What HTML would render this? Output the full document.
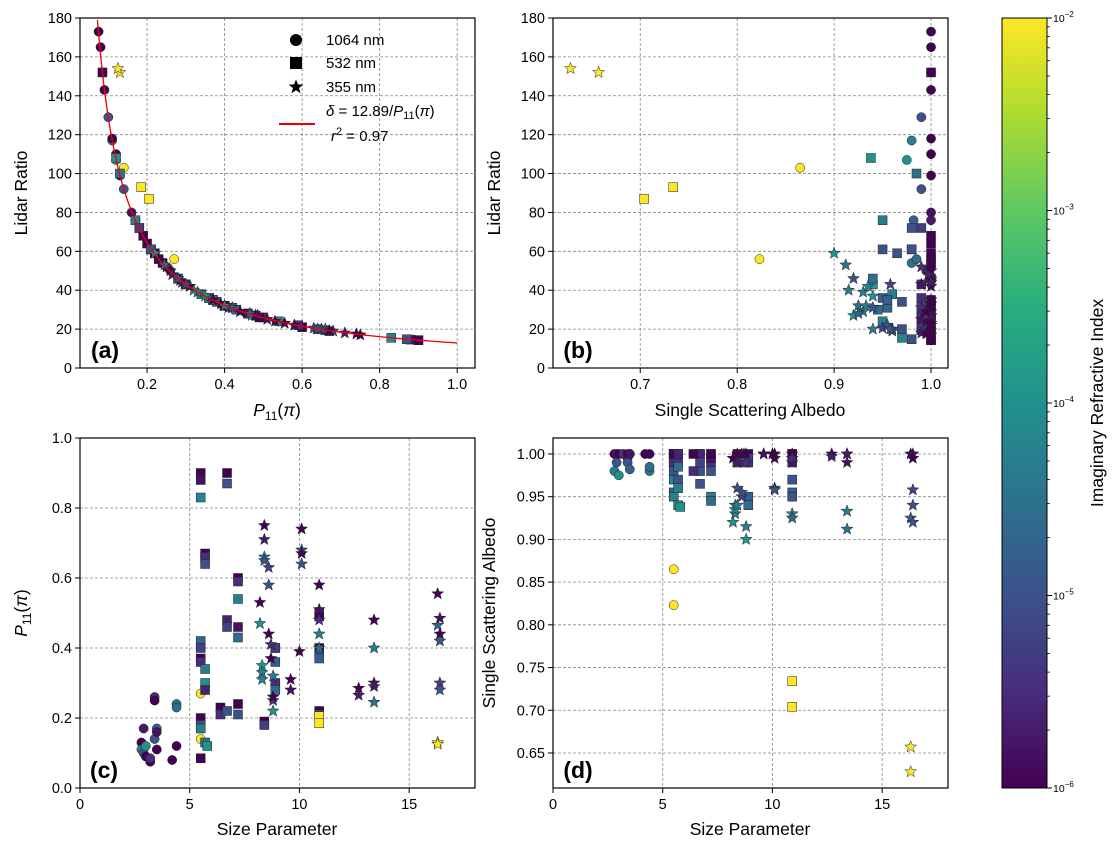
<!DOCTYPE html>
<html><head><meta charset="utf-8"><style>
body{margin:0;background:#fff;width:1117px;height:846px;overflow:hidden}
svg{font-family:"Liberation Sans","DejaVu Sans",sans-serif}
</style></head><body>
<svg id="fig" width="1117" height="846" viewBox="0 0 1117 846" xmlns="http://www.w3.org/2000/svg">
<defs>
<linearGradient id="vir" x1="0" y1="1" x2="0" y2="0">
<stop offset="0" stop-color="#440154"/><stop offset="0.125" stop-color="#472d7b"/><stop offset="0.25" stop-color="#3b528b"/><stop offset="0.375" stop-color="#2c728e"/><stop offset="0.5" stop-color="#21918c"/><stop offset="0.625" stop-color="#28ae80"/><stop offset="0.75" stop-color="#5ec962"/><stop offset="0.875" stop-color="#addc30"/><stop offset="1" stop-color="#fde725"/>
</linearGradient>
</defs>
</svg>
<script>
// particle data: size parameter, P11(pi), single scattering albedo, lidar ratio, log10(k), marker (0=1064,1=532,2=355)
const sizeParam=[2.8,2.8,2.9,2.9,3.0,3.0,3.2,3.2,3.4,3.4,3.4,3.5,3.5,3.5,4.2,4.4,4.4,4.4,5.5,5.5,
5.5,5.5,5.5,5.5,5.5,5.5,5.5,5.5,5.5,5.5,5.5,5.7,5.7,5.7,5.7,5.7,5.7,5.7,5.8,6.7,6.7,6.7,6.7,6.4,6.4,6.7,7.2,7.2,7.2,7.2,7.2,7.2,7.2,8.4,8.4,8.9,8.9,8.9,8.9,8.9,10.9,10.9,10.9,10.9,10.9,10.9,10.9,10.9,10.9,
8.2,8.3,8.3,8.2,8.3,8.4,8.4,8.4,8.4,8.6,8.6,8.6,8.7,8.7,8.8,8.8,8.8,8.8,9.6,9.6,10.1,10.1,10.1,10.1,10.0,10.9,10.9,10.9,10.9,10.9,12.7,12.7,13.4,13.4,13.4,13.4,13.4,16.3,16.3,16.4,16.4,16.4,16.4,16.4,16.3,16.3];
const p11=[0.13,0.11,0.17,0.10,0.12,0.09,0.075,0.085,0.26,0.25,0.14,0.17,0.11,0.16,0.08,0.24,0.12,0.23,0.27,0.14,
0.90,0.88,0.83,0.42,0.40,0.37,0.36,0.20,0.18,0.17,0.085,0.67,0.66,0.64,0.34,0.30,0.28,0.13,0.12,0.90,0.87,0.48,0.46,0.23,0.21,0.22,0.60,0.59,0.54,0.46,0.43,0.24,0.21,0.19,0.18,0.40,0.36,0.30,0.28,0.40,0.40,0.38,0.37,0.22,0.21,0.205,0.185,0.50,0.49,
0.53,0.35,0.33,0.47,0.31,0.75,0.71,0.66,0.65,0.63,0.58,0.44,0.41,0.37,0.32,0.25,0.22,0.26,0.31,0.28,0.74,0.68,0.67,0.64,0.39,0.58,0.51,0.48,0.44,0.40,0.285,0.265,0.48,0.40,0.30,0.29,0.245,0.555,0.465,0.485,0.44,0.42,0.30,0.28,0.13,0.125];
const albedo=[1.0,0.98,1.0,0.99,0.975,1.0,1.0,1.0,0.995,1.0,0.99,0.982,1.0,1.0,1.0,0.98,1.0,0.985,0.823,0.865,
1.0,1.0,0.97,0.955,0.99,1.0,0.99,1.0,0.98,0.95,1.0,1.0,0.99,0.97,0.96,0.94,1.0,0.985,0.938,1.0,0.98,1.0,0.99,1.0,0.98,0.965,1.0,0.99,0.95,0.995,0.945,1.0,0.98,1.0,0.99,1.0,0.95,0.99,0.94,0.995,1.0,0.97,0.955,1.0,0.95,0.704,0.734,0.99,1.0,
0.995,0.94,0.93,0.92,0.935,1.0,0.99,0.94,0.96,0.95,0.955,1.0,0.99,1.0,0.915,0.99,0.9,1.0,1.0,1.0,0.995,0.96,1.0,0.958,1.0,1.0,0.99,0.995,0.93,0.925,1.0,0.997,1.0,0.933,0.99,1.0,0.912,1.0,0.925,1.0,0.995,0.94,0.958,0.92,0.657,0.628];
const lidarRatio=[99,117,76,129,107,143,173,152,50,52,92,76,118,80,165,54,110,56,56,103,
14.3,14.6,15.5,31,32,35,36,64,72,76,152,19,19.5,20,38,43,46,100,108,14.3,14.8,27,28,56,61,59,21,22,24,28,30,54,61,68,72,32,36,43,46,32,32,34,35,59,61,87,93,26,26,
24,37,39,27,42,17,18,20,20,20.5,22,29,31,35,40,52,59,50,42,46,17.5,19,19.2,20,33,22,25,27,29,32,45,48,27,32,43,44,53,23,28,27,29,31,43,46,152,154];
const logK=[-6,-4.3,-5.7,-5,-4,-6,-6,-5.5,-5.5,-6,-5,-4.8,-6,-5.8,-6,-4.5,-6,-4.6,-2,-2,
-6,-5.8,-4.2,-4.7,-5.2,-6,-5.5,-6,-5,-4.3,-6,-6,-5.5,-5,-4.3,-4,-5.6,-4.5,-4,-6,-5,-5.6,-5.2,-6,-5.5,-5,-6,-5.5,-4.3,-5.8,-4.6,-6,-5,-6,-5.3,-6,-4.8,-5.5,-4.6,-5.3,-6,-5,-4.8,-6,-5,-2,-2,-5.5,-6,
-6,-4,-4.3,-4,-4.2,-6,-5.7,-4.3,-5,-5.2,-5,-6,-5.5,-6,-4.3,-5.5,-4,-6,-6,-5.8,-6,-5.2,-6,-5,-6,-6,-5.8,-5.5,-4.3,-4.6,-6,-5.7,-6,-4.3,-5.8,-5.7,-4.5,-6,-4.8,-5.8,-6,-5,-5.2,-5,-2,-2];
const markerType=[0,0,0,0,0,0,0,0,0,0,0,0,0,0,0,0,0,0,0,0,
1,1,1,1,1,1,1,1,1,1,1,1,1,1,1,1,1,1,1,1,1,1,1,1,1,1,1,1,1,1,1,1,1,1,1,1,1,1,1,1,1,1,1,1,1,1,1,1,1,
2,2,2,2,2,2,2,2,2,2,2,2,2,2,2,2,2,2,2,2,2,2,2,2,2,2,2,2,2,2,2,2,2,2,2,2,2,2,2,2,2,2,2,2,2,2];
const fitCoef=[12.89];
const fitRange=[0.072,1.0];
const colorTicks=[-6,-5,-4,-3,-2];

const NS="http://www.w3.org/2000/svg";
const svg=document.getElementById('fig');
function el(tag,attrs,parent){const e=document.createElementNS(NS,tag);for(const k in attrs)e.setAttribute(k,attrs[k]);(parent||svg).appendChild(e);return e;}
const stops=[[0,[68,1,84]],[0.125,[71,45,123]],[0.25,[59,82,139]],[0.375,[44,114,142]],[0.5,[33,145,140]],[0.625,[40,174,128]],[0.75,[94,201,98]],[0.875,[173,220,48]],[1,[253,231,37]]];
function viridis(lk){let t=Math.max(0,Math.min(1,(lk+6)/4));for(let i=1;i<stops.length;i++){if(t<=stops[i][0]){const a=stops[i-1],b=stops[i];const f=(t-a[0])/(b[0]-a[0]);const c=a[1].map((v,j)=>Math.round(v+(b[1][j]-v)*f));return `rgb(${c})`;}}return 'rgb(253,231,37)';}

function panel(name,L,T,W,H,xmin,xmax,ymin,ymax,xt,yt,xf,yf){
  const g=el('g',{});
  
  
  const sx=v=>L+(v-xmin)/(xmax-xmin)*W, sy=v=>T+H-(v-ymin)/(ymax-ymin)*H;
  xt.forEach(v=>{const x=sx(v);
    const l=el('line',{x1:x,x2:x,y1:T,y2:T+H,stroke:'#888','stroke-width':0.8,'stroke-dasharray':'3,2'},g);
    
    el('line',{x1:x,x2:x,y1:T+H,y2:T+H+5,stroke:'#000','stroke-width':1},g);
    const t=el('text',{x:x,y:T+H+21,'font-size':14.5,'text-anchor':'middle'},g);t.textContent=xf(v);
    });
  yt.forEach(v=>{const y=sy(v);
    const l=el('line',{x1:L,x2:L+W,y1:y,y2:y,stroke:'#888','stroke-width':0.8,'stroke-dasharray':'3,2'},g);
    
    el('line',{x1:L-5,x2:L,y1:y,y2:y,stroke:'#000','stroke-width':1},g);
    const t=el('text',{x:L-8,y:y+5,'font-size':14.5,'text-anchor':'end'},g);t.textContent=yf(v);
    });
  const f=el('rect',{x:L,y:T,width:W,height:H,fill:'none',stroke:'#000','stroke-width':1.2},g);
  
  return {g,sx,sy,L,T,W,H};
}
function marker(p,x,y,m,c){
  let e;
  if(m===0) e=el('circle',{cx:x,cy:y,r:4.6},p.g);
  else if(m===1) e=el('rect',{x:x-4.5,y:y-4.5,width:9,height:9},p.g);
  else {let d='';for(let i=0;i<10;i++){const r=i%2?2.6:6.2,a=-Math.PI/2+i*Math.PI/5;d+=(i?'L':'M')+(x+r*Math.cos(a)).toFixed(2)+','+(y+r*Math.sin(a)).toFixed(2);}e=el('path',{d:d+'Z'},p.g);}
  e.setAttribute('fill',c);e.setAttribute('stroke','#222');e.setAttribute('stroke-width','0.5');
  
  
}
function label(txt,x,y,size,rot,name,weight){
  const t=el('text',{x:x,y:y,'font-size':size,'text-anchor':'middle'});
  if(rot)t.setAttribute('transform',`rotate(-90 ${x} ${y})`);
  if(weight)t.setAttribute('font-weight',weight);
  t.innerHTML=txt;
  
  return t;
}
const f1=v=>v.toFixed(1), f0=v=>String(v), f2=v=>v.toFixed(2);
const lr=[0,20,40,60,80,100,120,140,160,180];
const pa=panel('panel-a',80,18,395,350,0.027,1.046,0,180,[0.2,0.4,0.6,0.8,1.0],lr,f1,f0);
const pb=panel('panel-b',553,18,395,350,0.610,1.0175,0,180,[0.7,0.8,0.9,1.0],lr,f1,f0);
const pc=panel('panel-c',80,438,395,350,0,18,0,1,[0,5,10,15],[0,0.2,0.4,0.6,0.8,1.0],f0,f1);
const pd=panel('panel-d',553,438,395,350,0,18,0.609,1.0187,[0,5,10,15],[0.65,0.7,0.75,0.8,0.85,0.9,0.95,1.0],f0,f2);

for(let m=0;m<3;m++)for(let i=0;i<sizeParam.length;i++){ if(markerType[i]!==m)continue;
  const c=viridis(logK[i]);
  marker(pa,pa.sx(p11[i]),pa.sy(lidarRatio[i]),m,c);
  marker(pb,pb.sx(albedo[i]),pb.sy(lidarRatio[i]),m,c);
  marker(pc,pc.sx(sizeParam[i]),pc.sy(p11[i]),m,c);
  marker(pd,pd.sx(sizeParam[i]),pd.sy(albedo[i]),m,c);
}
// fit line
let d='';for(let i=0;i<=200;i++){const x=fitRange[0]+(fitRange[1]-fitRange[0])*Math.pow(i/200,1.5);d+=(i?'L':'M')+pa.sx(x).toFixed(2)+','+pa.sy(Math.min(200,fitCoef[0]/x)).toFixed(2);}
const fit=el('path',{d:d,fill:'none',stroke:'#e00','stroke-width':1.3},pa.g);

// legend
const lg=el('g',{});

el('circle',{cx:296,cy:40,r:6,fill:'#000'},lg);
el('rect',{x:290,y:57,width:12,height:12,fill:'#000'},lg);
{let s='';for(let i=0;i<10;i++){const r=i%2?3.2:7.8,a=-Math.PI/2+i*Math.PI/5;s+=(i?'L':'M')+(296+r*Math.cos(a)).toFixed(2)+','+(87+r*Math.sin(a)).toFixed(2);}el('path',{d:s+'Z',fill:'#000'},lg);}
el('line',{x1:279,x2:315,y1:124,y2:124,stroke:'#e00','stroke-width':2},lg);
[['1064 nm',45],['532 nm',68],['355 nm',92]].forEach(([t,y])=>{const e=el('text',{x:326,y:y,'font-size':15},lg);e.textContent=t;});
{const e=el('text',{x:326,y:116,'font-size':15},lg);e.innerHTML='<tspan font-style="italic">δ</tspan> = 12.89/<tspan font-style="italic">P</tspan><tspan font-size="11" dy="3">11</tspan><tspan dy="-3">(</tspan><tspan font-style="italic">π</tspan>)';}
{const e=el('text',{x:331,y:141,'font-size':15},lg);e.innerHTML='<tspan font-style="italic">r</tspan><tspan font-size="11" dy="-6">2</tspan><tspan dy="6"> = 0.97</tspan>';}
// axis labels
label('<tspan font-style="italic">P</tspan><tspan font-size="12" dy="4">11</tspan><tspan dy="-4">(</tspan><tspan font-style="italic">π</tspan>)',277,416,17.5,false,'x-axis-title-a');
label('Lidar Ratio',27,193,17.5,true,'y-axis-title-a');
label('Single Scattering Albedo',750,416,17.5,false,'x-axis-title-b');
label('Lidar Ratio',500,193,17.5,true,'y-axis-title-b');
label('Size Parameter',277,835,17.5,false,'x-axis-title-c');
label('<tspan font-style="italic">P</tspan><tspan font-size="12" dy="4">11</tspan><tspan dy="-4">(</tspan><tspan font-style="italic">π</tspan>)',27,613,17.5,true,'y-axis-title-c');
label('Size Parameter',750,835,17.5,false,'x-axis-title-d');
label('Single Scattering Albedo',495,613,17.5,true,'y-axis-title-d');
label('(a)',105,358,23,false,'panel-label-a','bold');
label('(b)',578,358,23,false,'panel-label-b','bold');
label('(c)',104,778,23,false,'panel-label-c','bold');
label('(d)',578,778,23,false,'panel-label-d','bold');
// colorbar
const cb=el('g',{});

el('rect',{x:1002,y:18,width:45,height:770,fill:'url(#vir)',stroke:'#000','stroke-width':1},cb);
const cy=v=>788-(v+6)/4*770;
for(let e=-6;e<-2;e++)for(let m=2;m<10;m++){const y=cy(e+Math.log10(m));el('line',{x1:1047,x2:1050,y1:y,y2:y,stroke:'#000','stroke-width':0.8},cb);}
colorTicks.forEach(v=>{const y=cy(v);el('line',{x1:1047,x2:1052,y1:y,y2:y,stroke:'#000','stroke-width':1},cb);
  const t=el('text',{x:1053,y:y+4,'font-size':10.5},cb);t.innerHTML='10<tspan font-size="8" dy="-5">'+String(v).replace('-','−')+'</tspan>';
  });
label('Imaginary Refractive Index',1103,403,17.5,true,'colorbar-title');
</script>
</body></html>
